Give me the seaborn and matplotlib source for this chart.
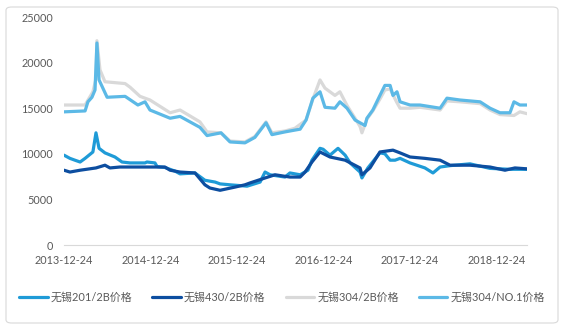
import matplotlib
matplotlib.use("Agg")
import matplotlib.pyplot as plt
from matplotlib.patches import FancyBboxPatch
import seaborn as sns
import pandas as pd

sns.set_theme(style="white")
plt.rcParams['font.family'] = ['Lato', 'Noto Sans CJK SC', 'DejaVu Sans']

# ---------------- data ----------------
names = ["无锡201/2B价格", "无锡430/2B价格", "无锡304/2B价格", "无锡304/NO.1价格"]
colors = ["#1F9BD7", "#0D4EA0", "#D9D9D9", "#5CB9E6"]

s201_dates = ["2013-12-24", "2014-01-18", "2014-02-08", "2014-03-02", "2014-03-23", "2014-04-25",
              "2014-05-08", "2014-05-21", "2014-06-15", "2014-07-27", "2014-08-26", "2014-09-29",
              "2014-12-01", "2014-12-09", "2015-01-12", "2015-01-21", "2015-02-23", "2015-04-07",
              "2015-04-28", "2015-06-30", "2015-08-11", "2015-09-01", "2015-09-23", "2015-10-14",
              "2015-11-25", "2016-02-05", "2016-03-31", "2016-04-21", "2016-05-12", "2016-07-14",
              "2016-08-04", "2016-09-16", "2016-10-19", "2016-11-05", "2016-12-09", "2016-12-22",
              "2017-01-20", "2017-02-23", "2017-03-25", "2017-04-15", "2017-05-27", "2017-06-04",
              "2017-06-29", "2017-08-19", "2017-09-09", "2017-10-01", "2017-10-22", "2017-11-12",
              "2017-12-24", "2018-02-25", "2018-03-31", "2018-04-30", "2018-06-11", "2018-09-03",
              "2018-11-27", "2019-02-19", "2019-05-02"]
s201_vals = [9850, 9500, 9300, 9100, 9500, 10200,
             12300, 10600, 10100, 9650, 9100, 9000,
             9000, 9100, 9000, 8600, 8500, 8100,
             7800, 7900, 7100, 7000, 6900, 6700,
             6600, 6450, 6900, 8000, 7700, 7450,
             7900, 7700, 8200, 9300, 10600, 10500,
             9850, 10600, 9850, 9000, 8000, 7350,
             8450, 10100, 10000, 9300, 9300, 9500,
             9000, 8450, 7900, 8550, 8700, 8900,
             8400, 8300, 8300]

s430_dates = ["2013-12-24", "2014-01-18", "2014-03-02", "2014-05-08", "2014-06-15", "2014-07-06",
              "2014-08-17", "2015-02-23", "2015-03-17", "2015-04-28", "2015-06-30", "2015-08-11",
              "2015-09-01", "2015-10-14", "2015-12-16", "2016-01-27", "2016-02-17", "2016-04-21",
              "2016-06-02", "2016-08-04", "2016-09-16", "2016-10-07", "2016-11-05", "2016-12-09",
              "2017-01-20", "2017-03-25", "2017-05-27", "2017-06-04", "2017-07-08", "2017-08-19",
              "2017-10-13", "2017-11-12", "2017-12-24", "2018-02-25", "2018-04-30", "2018-06-11",
              "2018-09-03", "2018-11-27", "2019-01-29", "2019-03-12", "2019-05-02"]
s430_vals = [8200, 8000, 8200, 8450, 8750, 8450,
             8550, 8550, 8200, 8000, 7900, 6600,
             6250, 6000, 6350, 6600, 6800, 7350,
             7700, 7450, 7450, 8000, 9100, 10200,
             9650, 9300, 8450, 7700, 8450, 10200,
             10400, 10100, 9650, 9500, 9300, 8750,
             8750, 8550, 8200, 8450, 8350]

s304_2b_dates = ["2013-12-24", "2014-03-23", "2014-04-25", "2014-05-08", "2014-05-12", "2014-05-25",
                 "2014-06-15", "2014-09-08", "2014-09-29", "2014-11-10", "2014-12-22", "2015-03-17",
                 "2015-04-28", "2015-07-21", "2015-08-20", "2015-10-18", "2015-11-25", "2016-01-27",
                 "2016-03-09", "2016-04-25", "2016-05-20", "2016-07-14", "2016-08-25", "2016-10-11",
                 "2016-11-09", "2016-12-09", "2016-12-30", "2017-02-10", "2017-03-03", "2017-04-02",
                 "2017-05-06", "2017-05-27", "2017-06-04", "2017-06-25", "2017-07-20", "2017-08-19",
                 "2017-09-09", "2017-10-01", "2017-10-30", "2017-11-12", "2017-12-24", "2018-02-04",
                 "2018-04-30", "2018-05-29", "2018-07-23", "2018-10-16", "2018-11-27", "2019-01-08",
                 "2019-03-08", "2019-04-02", "2019-05-02"]
s304_2b_vals = [15350, 15350, 16800, 18200, 22400, 19200,
                17900, 17700, 17300, 16300, 15900, 14500,
                14800, 13500, 12400, 12300, 11400, 11300,
                11900, 13500, 12300, 12500, 12800, 13700,
                16000, 18100, 17200, 16400, 16800, 15300,
                13900, 13000, 12300, 13800, 14700, 16000,
                17000, 17100, 15600, 15000, 15000, 15100,
                14800, 15800, 15700, 15500, 14800, 14300,
                14200, 14600, 14400]

s304_no1_dates = ["2013-12-24", "2014-03-23", "2014-04-04", "2014-04-21", "2014-05-04", "2014-05-12",
                  "2014-05-21", "2014-06-24", "2014-09-08", "2014-11-01", "2014-12-01", "2014-12-22",
                  "2015-03-17", "2015-04-28", "2015-06-09", "2015-07-21", "2015-08-20", "2015-10-18",
                  "2015-11-25", "2016-01-27", "2016-03-09", "2016-04-25", "2016-05-20", "2016-07-14",
                  "2016-08-25", "2016-09-16", "2016-10-11", "2016-11-09", "2016-12-09", "2016-12-30",
                  "2017-02-10", "2017-03-03", "2017-04-02", "2017-05-06", "2017-05-27", "2017-06-17",
                  "2017-06-25", "2017-07-20", "2017-08-19", "2017-09-09", "2017-10-01", "2017-10-13",
                  "2017-10-30", "2017-11-12", "2017-12-24", "2018-02-04", "2018-04-30", "2018-05-29",
                  "2018-07-23", "2018-10-16", "2018-11-27", "2019-01-08", "2019-02-19", "2019-03-08",
                  "2019-04-02", "2019-05-02"]
s304_no1_vals = [14600, 14700, 15700, 16200, 17000, 22150,
                 18100, 16200, 16300, 15350, 15700, 14800,
                 13900, 14100, 13500, 12900, 12000, 12300,
                 11300, 11200, 11800, 13400, 12100, 12400,
                 12600, 12700, 13700, 16100, 16800, 15100,
                 15000, 15700, 15000, 13700, 13400, 13100,
                 13900, 14800, 16400, 17500, 17500, 16400,
                 16800, 15700, 15350, 15350, 15000, 16100,
                 15900, 15700, 15000, 14500, 14500, 15700,
                 15350, 15350]

y_ticks = [0, 5000, 10000, 15000, 20000, 25000]
x_tick_labels = ["2013-12-24", "2014-12-24", "2015-12-24", "2016-12-24", "2017-12-24", "2018-12-24"]

# ---------------- figure ----------------
fig = plt.figure(figsize=(5.64, 3.27), dpi=100)
ax = fig.add_axes([64 / 564, 1 - 245 / 327, (527 - 64) / 564, (245 - 17) / 327])

series = [(s201_dates, s201_vals), (s430_dates, s430_vals),
          (s304_2b_dates, s304_2b_vals), (s304_no1_dates, s304_no1_vals)]
for (d, v), name, c in zip(series, names, colors):
    df = pd.DataFrame({"date": pd.to_datetime(d), "value": v})
    sns.lineplot(data=df, x="date", y="value", ax=ax, color=c, linewidth=2.3,
                 label=name, legend=False)

ax.set_xlim(pd.Timestamp("2013-12-24"), pd.Timestamp("2019-05-02"))
ax.set_ylim(0, 25000)
ax.set_yticks(y_ticks)
ax.set_yticklabels([str(t) for t in y_ticks])
ax.set_xticks(pd.to_datetime(x_tick_labels))
ax.set_xticklabels(x_tick_labels)
ax.set_xlabel("")
ax.set_ylabel("")
for s in ["top", "right", "left"]:
    ax.spines[s].set_visible(False)
ax.spines["bottom"].set_color("#D9D9D9")
ax.spines["bottom"].set_linewidth(0.8)
ax.tick_params(axis="x", colors="#595959", labelsize=7.8, length=3, width=0.8,
               color="#D9D9D9", direction="out", pad=4)
ax.tick_params(axis="y", colors="#595959", labelsize=7.8, length=0, pad=8)
ax.grid(False)

handles, labels = ax.get_legend_handles_labels()
fig.legend(handles, labels, loc="center", bbox_to_anchor=(0.5, 1 - 297 / 327),
           ncol=4, frameon=False, fontsize=7.9, handlelength=2.6, handletextpad=0.3,
           columnspacing=1.8, labelcolor="#595959")

border = FancyBboxPatch((6 / 564, 4 / 327), 552 / 564, 316 / 327,
                        boxstyle="round,pad=0,rounding_size=0.01",
                        transform=fig.transFigure, facecolor="none",
                        edgecolor="#D9D9D9", linewidth=0.8)
fig.patches.append(border)

fig.savefig("out.png", dpi=100)
